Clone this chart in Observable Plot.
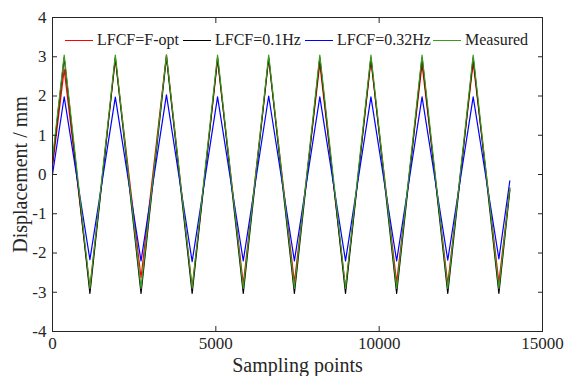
<!DOCTYPE html>
<html>
<head>
<meta charset="utf-8">
<script src="https://cdn.jsdelivr.net/npm/d3@7"></script>
<script src="https://cdn.jsdelivr.net/npm/@observablehq/plot@0.6"></script>
<style>
  html, body { margin: 0; padding: 0; background: #fff; }
  #wrap { position: relative; width: 569px; height: 376px; overflow: hidden; font-family: "Liberation Serif", "Times New Roman", serif; }
  #legend { position: absolute; left: 0; top: 0; width: 569px; height: 376px; pointer-events: none; }
  .item { position: absolute; top: 31px; display: flex; align-items: center; font-size: 16px; color: #222; white-space: nowrap; }
  .sw { width: 28px; height: 0; border-top: 1.2px solid; margin-right: 4px; }
</style>
</head>
<body>
<div id="wrap"><div id="chart"></div><div id="legend"></div></div>
<script>
// ---- data ----
const seriesNames = ["LFCF=F-opt", "LFCF=0.1Hz", "LFCF=0.32Hz", "Measured"];
const seriesColors = ["#ff0000", "#000000", "#0000ff", "#3c9a1e"];
const peakX   = [358, 1923, 3488, 5053, 6618, 8183, 9748, 11313, 12878];
const troughX = [1145, 2710, 4275, 5840, 7405, 8970, 10535, 12100, 13665];
const startX = 0, endX = 14000;
const startVals = [0.2, 0.3, 0.0, 0.4];
const endVals   = [-0.35, -0.4, -0.16, -0.33];
const redPeaks     = [2.68, 2.95, 3.04, 2.92, 2.95, 2.82, 2.9, 2.8, 2.85];
const redTroughs   = [-2.9, -2.63, -2.9, -2.79, -2.75, -2.9, -2.75, -2.79, -2.75];
const blackPeaks   = [2.98, 2.98, 2.99, 2.98, 2.98, 2.98, 2.98, 2.98, 2.98];
const blackTroughs = [-3.03, -3.03, -3.03, -3.03, -3.03, -3.03, -3.03, -3.03, -3.03];
const bluePeaks    = [1.98, 1.97, 2.03, 1.98, 2.0, 1.98, 1.98, 1.98, 1.98];
const blueTroughs  = [-2.17, -2.2, -2.22, -2.2, -2.2, -2.2, -2.2, -2.18, -2.15];
const greenPeaks   = [3.04, 3.04, 3.05, 3.04, 3.04, 3.04, 3.04, 3.04, 3.04];
const greenTroughs = [-2.9, -2.9, -2.9, -2.9, -2.9, -2.9, -2.9, -2.9, -2.9];
const xTicks = [0, 5000, 10000, 15000];
const yTicks = [-4, -3, -2, -1, 0, 1, 2, 3, 4];

const peaksBy = [redPeaks, blackPeaks, bluePeaks, greenPeaks];
const troughsBy = [redTroughs, blackTroughs, blueTroughs, greenTroughs];

const rows = [];
seriesNames.forEach((name, s) => {
  rows.push({series: name, x: startX, y: startVals[s]});
  for (let k = 0; k < peakX.length; k++) {
    rows.push({series: name, x: peakX[k], y: peaksBy[s][k]});
    rows.push({series: name, x: troughX[k], y: troughsBy[s][k]});
  }
  rows.push({series: name, x: endX, y: endVals[s]});
});

const font = '"Liberation Serif", "Times New Roman", serif';
const axisColor = "#262626";

const chart = Plot.plot({
  width: 569,
  height: 376,
  marginLeft: 52,
  marginRight: 27,
  marginTop: 17,
  marginBottom: 45,
  style: {fontFamily: font, fontSize: "17px", color: axisColor, background: "#fff"},
  x: {domain: [0, 15000]},
  y: {domain: [-4, 4]},
  color: {domain: seriesNames, range: seriesColors},
  marks: [
    ...seriesNames.map(name => Plot.line(rows.filter(d => d.series === name), {x: "x", y: "y", stroke: "series", strokeWidth: 1.2})),
    Plot.frame({stroke: axisColor, strokeWidth: 1}),
    Plot.axisX(xTicks, {anchor: "bottom", tickSize: -5, tickPadding: 10, tickFormat: d => String(d), fontSize: 17, fontFamily: font, label: null}),
    Plot.axisX({anchor: "bottom", ticks: [], label: "Sampling points", labelAnchor: "center", labelArrow: "none", labelOffset: 40, fontSize: 20, fontFamily: font}),
    Plot.axisX(xTicks, {anchor: "top", tickSize: -5, tickFormat: () => "", label: null}),
    Plot.axisY(yTicks, {anchor: "left", tickSize: -5, tickPadding: 11, tickFormat: d => String(d), fontSize: 17, fontFamily: font, label: null}),
    Plot.axisY({anchor: "left", ticks: [], label: "Displacement / mm", labelAnchor: "center", labelArrow: "none", labelOffset: 40, fontSize: 20, fontFamily: font}),
    Plot.axisY(yTicks, {anchor: "right", tickSize: -5, tickFormat: () => "", label: null})
  ]
});
document.getElementById("chart").appendChild(chart);

// legend (inside plot area, top)
const legendLeft = [65, 183, 305, 433];
const legend = document.getElementById("legend");
seriesNames.forEach((name, i) => {
  const it = document.createElement("div");
  it.className = "item";
  it.style.left = legendLeft[i] + "px";
  const sw = document.createElement("div");
  sw.className = "sw";
  sw.style.borderTopColor = seriesColors[i];
  const tx = document.createElement("span");
  tx.textContent = name;
  it.appendChild(sw); it.appendChild(tx);
  legend.appendChild(it);
});
</script>
</body>
</html>
